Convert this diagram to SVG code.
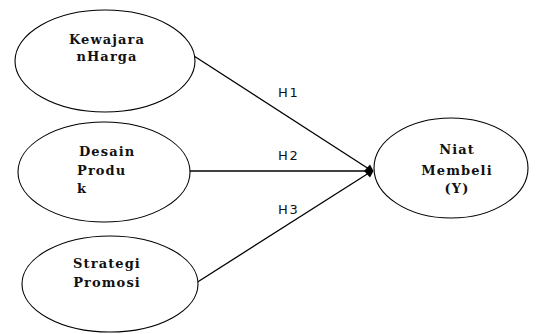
<svg xmlns="http://www.w3.org/2000/svg" width="542" height="334" viewBox="0 0 542 334">
<style>
.node ellipse{fill:#fff;stroke:#000;stroke-width:1.1}
.nt{font-family:"DejaVu Serif","Liberation Serif",serif;font-weight:bold;font-size:13px;letter-spacing:1.1px;fill:#111}
.lbl{font-family:"DejaVu Sans",sans-serif;font-size:13px;letter-spacing:1.8px;fill:#111}
.edge{stroke:#000;stroke-width:1.3;fill:none}
</style>
<defs>
<marker id="ah" markerWidth="12" markerHeight="16" refX="8" refY="8" orient="0" markerUnits="userSpaceOnUse">
<path d="M0,8 L6,1.5 L9.5,8 L6,14.5 z" fill="#000"/>
</marker>
</defs>
<rect width="542" height="334" fill="#fff"/>
<g id="connectors">
<line class="edge" x1="194" y1="56" x2="372" y2="171"/>
<line class="edge" x1="190" y1="171" x2="372" y2="171" marker-end="url(#ah)"/>
<line class="edge" x1="196" y1="283" x2="372" y2="171"/>
<text class="lbl" x="278" y="97">H1</text>
<text class="lbl" x="278" y="160">H2</text>
<text class="lbl" x="278" y="214">H3</text>
</g>
<g id="kewajaran" class="node">
<ellipse cx="105" cy="61" rx="90" ry="51"/>
<text class="nt" x="107" y="44" text-anchor="middle">Kewajara</text>
<text class="nt" x="107" y="61" text-anchor="middle">nHarga</text>
</g>
<g id="desain" class="node">
<ellipse cx="104" cy="172" rx="86" ry="50"/>
<text class="nt" x="79" y="156">Desain</text>
<text class="nt" x="77" y="175">Produ</text>
<text class="nt" x="77" y="193">k</text>
</g>
<g id="strategi" class="node">
<ellipse cx="110" cy="284" rx="88" ry="48"/>
<text class="nt" x="107" y="268" text-anchor="middle">Strategi</text>
<text class="nt" x="107" y="287" text-anchor="middle">Promosi</text>
</g>
<g id="niat" class="node">
<ellipse cx="451" cy="168" rx="77" ry="50"/>
<text class="nt" x="457" y="154" text-anchor="middle">Niat</text>
<text class="nt" x="457" y="175" text-anchor="middle">Membeli</text>
<text class="nt" x="457" y="193" text-anchor="middle">(Y)</text>
</g>
</svg>
